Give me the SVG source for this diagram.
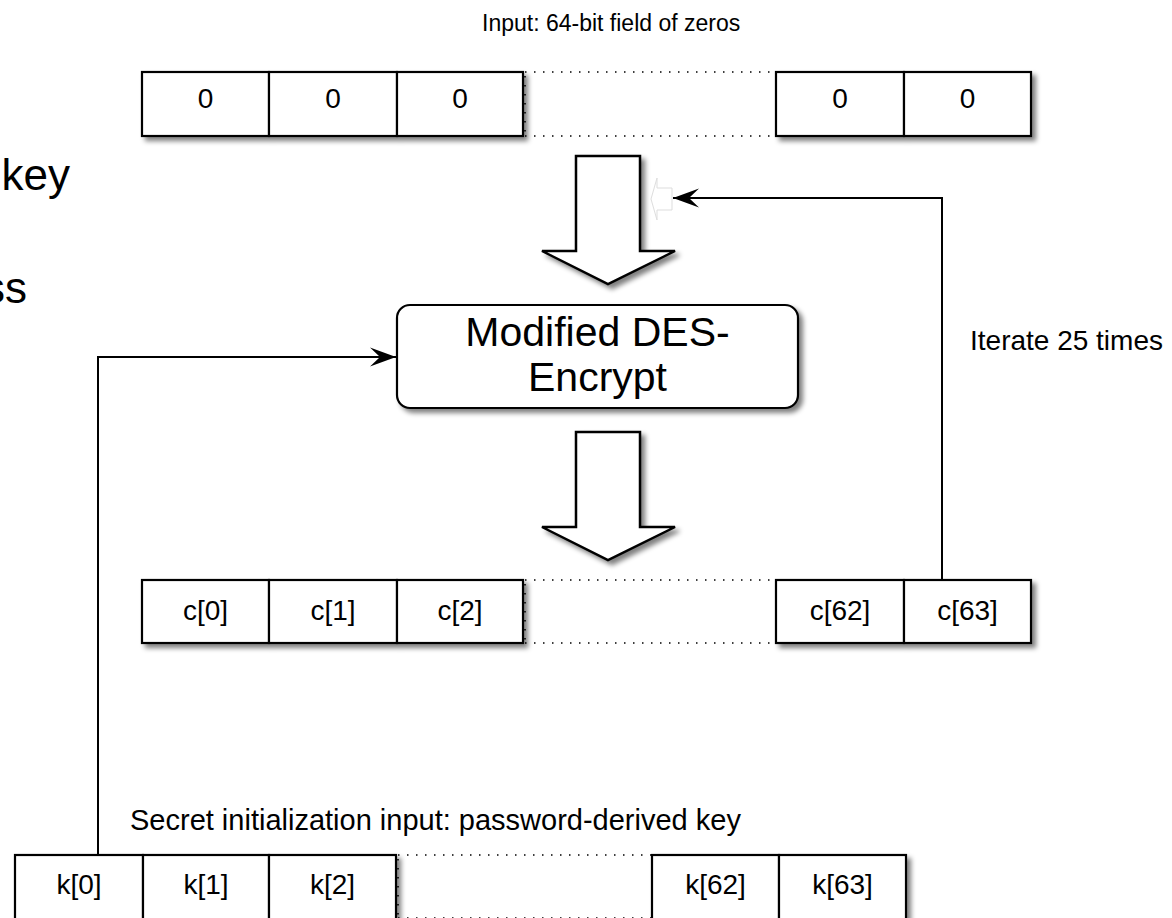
<svg xmlns="http://www.w3.org/2000/svg" width="1172" height="918" viewBox="0 0 1172 918">
<style>
text{font-family:"Liberation Sans",Arial,Helvetica,sans-serif;fill:#000}
.cell{fill:#fff;stroke:#000;stroke-width:2.2}
.dot{fill:none;stroke:#000;stroke-width:1.6;stroke-dasharray:1.5 7.5}
.lbl{font-size:28px;text-anchor:middle}
.big{fill:#fff;stroke:#000;stroke-width:2.5;stroke-linejoin:miter}
.con{fill:none;stroke:#000;stroke-width:2}
</style>
<defs>
<filter id="sh" x="-10%" y="-20%" width="130%" height="150%">
<feGaussianBlur in="SourceAlpha" stdDeviation="2.5"/>
<feOffset dx="4" dy="4" result="b"/>
<feComponentTransfer><feFuncA type="linear" slope="0.5"/></feComponentTransfer>
<feMerge><feMergeNode/><feMergeNode in="SourceGraphic"/></feMerge>
</filter>
<marker id="ah" markerUnits="userSpaceOnUse" markerWidth="30" markerHeight="22" viewBox="-27 -11 30 22" refX="0" refY="0" orient="auto">
<path d="M0,0 L-26,-9.5 L-16,0 L-26,9.5 Z" fill="#000"/>
</marker>
</defs>

<rect width="1172" height="918" fill="#fff"/>

<text x="70" y="190" font-size="44" text-anchor="end">key</text>
<text x="27" y="303" font-size="44" text-anchor="end">ss</text>

<text x="482" y="31" font-size="23">Input: 64-bit field of zeros</text>

<g id="input-row">
<g filter="url(#sh)">
<rect class="cell" x="142" y="72" width="127" height="64"/>
<rect class="cell" x="269" y="72" width="128" height="64"/>
<rect class="cell" x="397" y="72" width="126" height="64"/>
<rect class="cell" x="776" y="72" width="128" height="64"/>
<rect class="cell" x="904" y="72" width="127" height="64"/>
</g>
<path class="dot" d="M525,72 H776 M525,136 H776 M525,76 V136"/>
<text class="lbl" x="205.5" y="108">0</text>
<text class="lbl" x="333" y="108">0</text>
<text class="lbl" x="460" y="108">0</text>
<text class="lbl" x="840" y="108">0</text>
<text class="lbl" x="967.5" y="108">0</text>
</g>

<g id="arrow-in">
<polygon class="big" filter="url(#sh)" points="576,156 640,156 640,251 675,251 608,284 542,251 576,251"/>
</g>

<g id="ghost">
<polygon points="672,188 657,188 657,178 651,199 657,220 657,210 672,210" fill="#fff" stroke="#ddd" stroke-width="1"/>
</g>

<g id="des">
<rect x="397" y="305" width="401" height="103" rx="13" ry="13" fill="#fff" stroke="#000" stroke-width="2.2" filter="url(#sh)"/>
<text x="597.5" y="346" font-size="41" text-anchor="middle">Modified DES-</text>
<text x="597.5" y="391" font-size="41" text-anchor="middle">Encrypt</text>
</g>

<g id="arrow-out">
<polygon class="big" filter="url(#sh)" points="576,432 640,432 640,527 675,527 608,560 542,527 576,527"/>
</g>

<g id="output-row">
<g filter="url(#sh)">
<rect class="cell" x="142" y="580" width="127" height="63"/>
<rect class="cell" x="269" y="580" width="128" height="63"/>
<rect class="cell" x="397" y="580" width="126" height="63"/>
<rect class="cell" x="776" y="580" width="128" height="63"/>
<rect class="cell" x="904" y="580" width="127" height="63"/>
</g>
<path class="dot" d="M525,580 H776 M525,643 H776 M525,584 V643"/>
<text class="lbl" x="205.5" y="620">c[0]</text>
<text class="lbl" x="333" y="620">c[1]</text>
<text class="lbl" x="460" y="620">c[2]</text>
<text class="lbl" x="840" y="620">c[62]</text>
<text class="lbl" x="967.5" y="620">c[63]</text>
</g>

<text x="970" y="350" font-size="28">Iterate 25 times</text>

<text x="130" y="830" font-size="29">Secret initialization input: password-derived key</text>

<g id="key-row">
<g filter="url(#sh)">
<rect class="cell" x="15" y="855" width="128" height="70"/>
<rect class="cell" x="143" y="855" width="126" height="70"/>
<rect class="cell" x="269" y="855" width="127" height="70"/>
<rect class="cell" x="652" y="855" width="127" height="70"/>
<rect class="cell" x="779" y="855" width="127" height="70"/>
</g>
<path class="dot" d="M398,855 H652 M398,918 H652 M398,859 V918"/>
<text class="lbl" x="79" y="894">k[0]</text>
<text class="lbl" x="206" y="894">k[1]</text>
<text class="lbl" x="332.5" y="894">k[2]</text>
<text class="lbl" x="715.5" y="894">k[62]</text>
<text class="lbl" x="842.5" y="894">k[63]</text>
</g>

<g id="connectors">
<path class="con" d="M98,855 V357 H396" marker-end="url(#ah)"/>
<path class="con" d="M942,580 V198 H673" marker-end="url(#ah)"/>
</g>
</svg>
